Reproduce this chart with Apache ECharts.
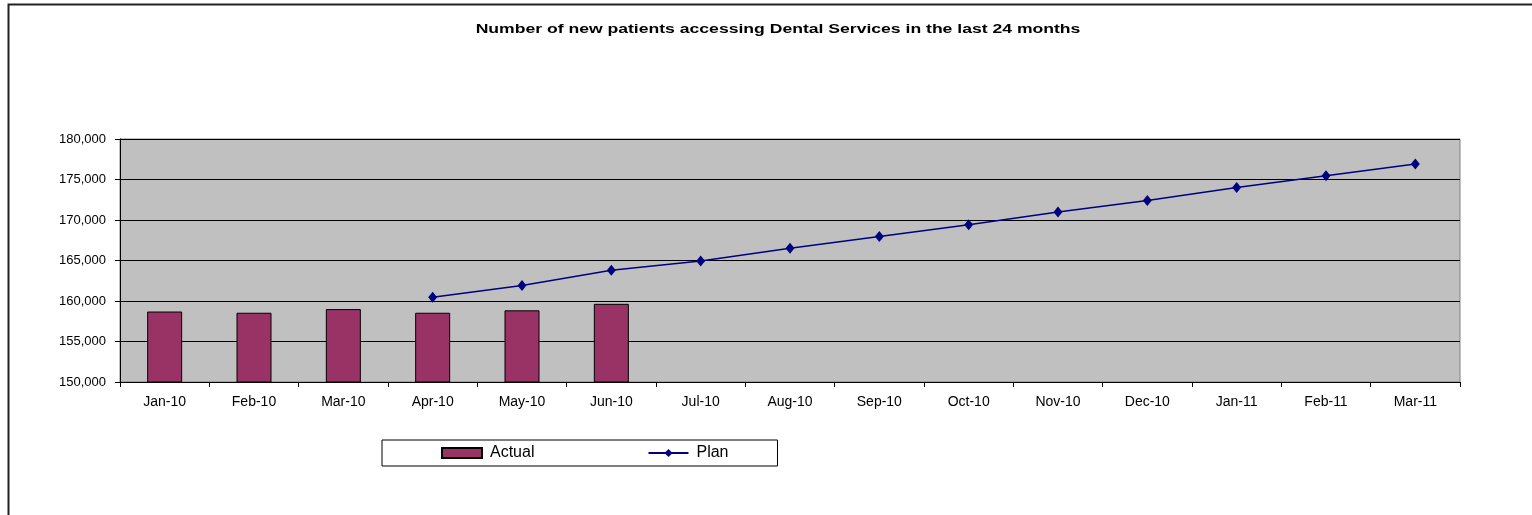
<!DOCTYPE html>
<html>
<head>
<meta charset="utf-8">
<script src="https://cdn.jsdelivr.net/npm/echarts@6/dist/echarts.min.js"></script>
<style>
  html, body { margin: 0; padding: 0; background: #fff; }
  #chart { width: 1532px; height: 515px; }
</style>
</head>
<body>
<div id="chart"></div>
<script>
// months shown on the x axis
const months = ['Jan-10', 'Feb-10', 'Mar-10', 'Apr-10', 'May-10', 'Jun-10', 'Jul-10', 'Aug-10',
  'Sep-10', 'Oct-10', 'Nov-10', 'Dec-10', 'Jan-11', 'Feb-11', 'Mar-11'];
// actual new patients (only first six months reported)
const actual = [158700, 158550, 159000, 158550, 158850, 159650, null, null, null, null, null, null, null, null, null];
// plan starts in April 2010
const plan = [null, null, null, 160450, 161900, 163800, 164950, 166500, 167950, 169400, 171000, 172400, 174000, 175450, 176900];

const chartTitle = 'Number of new patients accessing Dental Services in the last 24 months';

const chart = echarts.init(document.getElementById('chart'));

const font = 'Liberation Sans, Arial, sans-serif';

const option = {
  backgroundColor: '#fff',
  animation: false,
  graphic: [
    {
      // outer chart border (top + left only visible)
      type: 'polyline',
      shape: { points: [[8.5, 1600], [8.5, 4.5], [1540, 4.5]] },
      style: { stroke: '#222', lineWidth: 2, fill: null },
      silent: true
    },
    {
      // title, stretched wide like the original
      type: 'text',
      x: 778,
      y: 29.5,
      scaleX: 1.465,
      style: {
        text: chartTitle,
        fontFamily: font,
        fontSize: 12,
        fontWeight: 'bold',
        fill: '#000',
        align: 'center',
        verticalAlign: 'middle'
      }
    }
  ],
  legend: {
    left: 382,
    top: 440,
    orient: 'horizontal',
    padding: [5, 49, 5, 59],
    itemGap: 113,
    itemWidth: 40,
    itemHeight: 10,
    borderColor: '#000',
    borderWidth: 1,
    textStyle: { fontFamily: font, fontSize: 16, color: '#000', padding: [0, 0, 0, 3] },
    data: [
      { name: 'Actual', icon: 'rect' },
      { name: 'Plan' }
    ]
  },
  grid: { left: 120, right: 72, top: 139, bottom: 133, show: true, backgroundColor: '#c0c0c0', borderColor: '#808080', borderWidth: 1 },
  xAxis: {
    type: 'category',
    data: months,
    boundaryGap: true,
    axisLine: { lineStyle: { color: '#000', width: 1 } },
    axisTick: { show: true, alignWithLabel: false, length: 5, lineStyle: { color: '#000' } },
    axisLabel: { fontFamily: font, fontSize: 14, color: '#000', margin: 13 },
    splitLine: { show: false }
  },
  yAxis: {
    type: 'value',
    min: 150000,
    max: 180000,
    interval: 5000,
    axisLine: { show: true, lineStyle: { color: '#000', width: 1 } },
    axisTick: { show: true, length: 5, lineStyle: { color: '#000' } },
    axisLabel: {
      fontFamily: font, fontSize: 13, color: '#000', margin: 14,
      formatter: v => v.toLocaleString('en-US')
    },
    splitLine: { show: true, lineStyle: { color: '#000', width: 1 } }
  },
  series: [
    {
      name: 'Actual',
      type: 'bar',
      data: actual,
      barWidth: 35,
      itemStyle: { color: '#993366', borderColor: '#000', borderWidth: 1 }
    },
    {
      name: 'Plan',
      type: 'line',
      data: plan,
      symbol: 'diamond',
      symbolSize: [9, 11],
      showAllSymbol: true,
      lineStyle: { color: '#000080', width: 1.5 },
      itemStyle: { color: '#000080' }
    }
  ]
};

chart.setOption(option);
</script>
</body>
</html>
